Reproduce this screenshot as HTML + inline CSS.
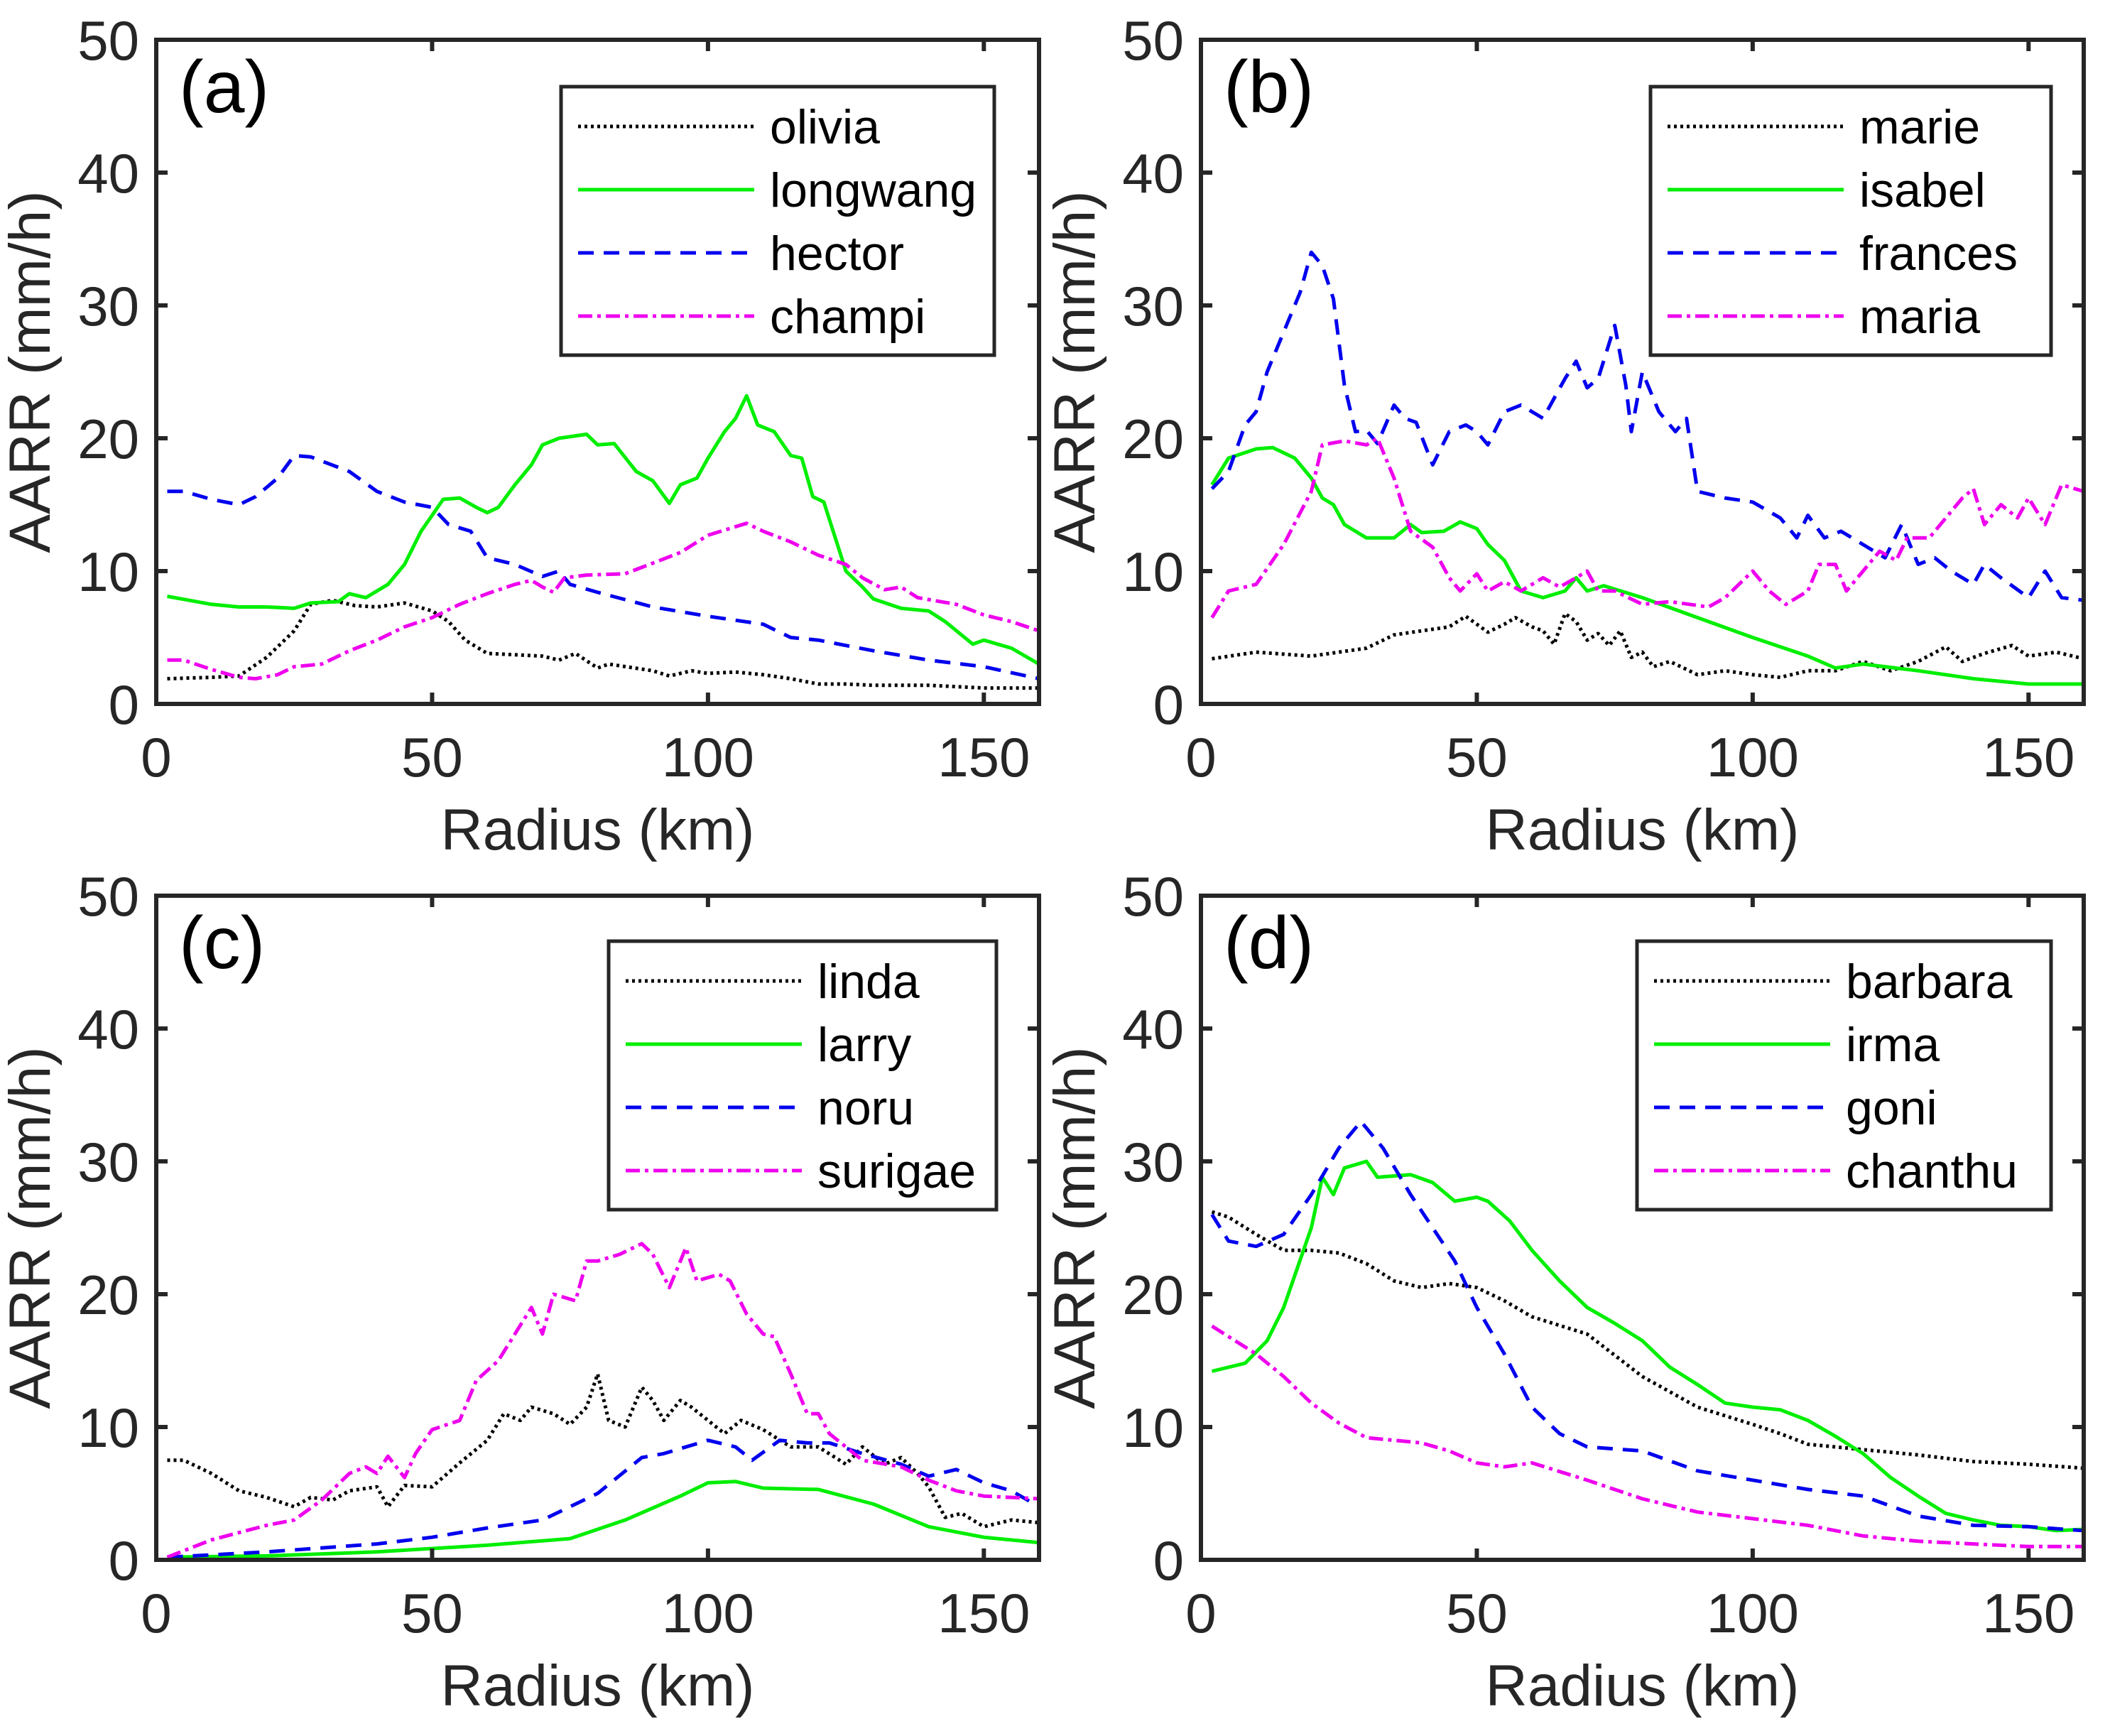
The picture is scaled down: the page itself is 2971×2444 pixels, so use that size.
<!DOCTYPE html>
<html><head><meta charset="utf-8"><style>
html,body{margin:0;padding:0;background:#fff}
svg{display:block}
text{font-family:"Liberation Sans",Arial,sans-serif;fill:#262626}
</style></head><body>
<svg id="fig" width="2971" height="2444" viewBox="0 0 2971 2444" xmlns="http://www.w3.org/2000/svg"></svg>
<script>
const xTicks=[0,50,100,150];
const yTicks=[0,10,20,30,40,50];
// panel a
const aOliviaX=[2,10,15,20,25,28,32,36,40,45,50,53,56,60,65,70,73,76,80,82,90,93,97,100,105,110,115,120,125,130,140,150,160];
const aOliviaY=[1.9,2.0,2.1,3.5,5.5,7.5,7.8,7.4,7.3,7.6,7.0,6.2,4.8,3.8,3.7,3.6,3.3,3.8,2.7,3.0,2.5,2.1,2.5,2.3,2.4,2.2,1.9,1.5,1.5,1.4,1.4,1.2,1.2];
const aLongwangX=[2,10,15,20,25,28,33,35,38,42,45,48,52,55,58,60,62,65,68,70,73,78,80,83,87,90,93,95,98,100,103,105,107,109,112,115,117,119,121,125,128,130,135,140,143,148,150,155,160];
const aLongwangY=[8.1,7.5,7.3,7.3,7.2,7.6,7.7,8.3,8.0,9.0,10.5,13,15.4,15.5,14.8,14.4,14.8,16.5,18,19.5,20.0,20.3,19.5,19.6,17.5,16.8,15.1,16.5,17,18.5,20.5,21.5,23.2,21.0,20.5,18.7,18.5,15.6,15.2,10,8.8,7.9,7.2,7.0,6.2,4.5,4.8,4.2,3.0];
const aHectorX=[2,5,10,15,18,22,25,28,35,40,45,50,53,57,60,65,70,73,75,80,90,100,110,115,120,130,140,150,160];
const aHectorY=[16,16,15.4,15,15.6,17,18.7,18.6,17.5,16,15.2,14.8,13.5,13,11,10.5,9.6,10,9,8.4,7.3,6.6,6.0,5.0,4.8,4.0,3.3,2.8,1.9];
const aChampiX=[2,5,10,15,18,22,25,30,35,40,45,50,55,60,65,68,70,72,74,78,85,90,95,100,107,110,115,120,125,128,132,135,138,145,150,155,160];
const aChampiY=[3.3,3.3,2.6,2,1.9,2.2,2.8,3,4.0,4.8,5.8,6.5,7.5,8.3,9.0,9.3,8.8,8.4,9.5,9.7,9.8,10.6,11.4,12.7,13.6,13.0,12.2,11.2,10.5,9.5,8.6,8.8,8.0,7.5,6.7,6.2,5.5];
// panel b
const bMarieX=[2,10,20,30,35,40,45,48,52,55,57,60,62,64,66,68,70,72,74,76,78,80,82,85,90,95,100,105,110,115,120,125,130,135,138,142,147,150,155,160];
const bMarieY=[3.4,3.9,3.6,4.2,5.2,5.5,5.8,6.6,5.4,6.0,6.5,5.8,5.5,4.5,6.8,6.2,4.8,5.3,4.4,5.5,3.5,3.9,2.8,3.2,2.2,2.5,2.2,2.0,2.5,2.5,3.2,2.5,3.2,4.3,3.2,3.8,4.4,3.6,3.9,3.4];
const bIsabelX=[2,5,10,13,17,20,22,24,26,30,35,38,40,44,47,50,52,55,58,62,66,68,70,73,80,90,100,110,115,120,130,140,150,160];
const bIsabelY=[16.5,18.5,19.2,19.3,18.5,17,15.5,15,13.5,12.5,12.5,13.5,12.9,13,13.7,13.2,12,10.8,8.5,8,8.5,9.5,8.5,8.9,8.0,6.5,5.0,3.6,2.7,3.0,2.5,1.9,1.5,1.5];
const bFrancesX=[2,5,8,10,12,15,18,20,22,24,26,28,30,32,35,37,39,42,45,48,50,52,55,58,62,66,68,70,72,75,77,78,80,83,86,88,90,95,100,105,108,110,113,116,120,124,127,130,133,136,140,142,145,150,153,156,160];
const bFrancesY=[16.2,17.5,21,22,25,28,31,34,33,30.5,24,20.5,20.6,19.6,22.5,21.5,21.2,18,20.5,21,20.5,19.5,22,22.5,21.5,24.5,25.8,23.8,24.5,28.5,24,20.5,25,22,20.5,21.5,16,15.5,15.2,14,12.5,14.2,12.5,13,12,11,13.5,10.5,11,10,9,10.5,9.5,8.0,10,8,7.8];
const bMariaX=[2,5,10,15,20,22,26,30,32,35,38,42,45,47,50,52,55,58,62,65,68,70,72,75,80,85,92,95,100,103,106,110,112,115,117,120,123,126,128,132,135,138,140,142,145,148,150,153,156,160];
const bMariaY=[6.5,8.5,9.0,12,16,19.5,19.8,19.5,20,17,13,11.8,9.5,8.5,9.8,8.5,9.2,8.5,9.5,8.8,9.5,10,8.5,8.5,7.5,7.7,7.3,8,10,8.5,7.5,8.5,10.5,10.5,8.5,10,11.5,10.8,12.5,12.5,14,15.5,16.2,13.5,15,14,15.5,13.5,16.5,16];
// panel c
const cLindaX=[2,5,10,15,20,25,28,32,35,40,42,45,50,55,60,63,66,68,72,75,78,80,82,85,88,90,92,95,97,100,103,106,110,115,120,125,128,132,135,138,140,143,146,150,155,160];
const cLindaY=[7.5,7.5,6.5,5.2,4.7,4.0,4.7,4.5,5.2,5.5,4.0,5.6,5.5,7.3,9.0,11,10.5,11.5,11,10.2,11.5,14,10.5,10,13,12,10.5,12,11.5,10.5,9.5,10.5,9.8,8.5,8.5,7.2,8.5,7.2,7.7,6.5,5.5,3.2,3.5,2.5,3,2.8];
const cLarryX=[2,20,40,60,75,85,95,100,105,110,120,130,140,150,160];
const cLarryY=[0.2,0.3,0.6,1.1,1.6,3.0,4.8,5.8,5.9,5.4,5.3,4.2,2.5,1.7,1.3];
const cNoruX=[2,20,40,50,60,70,80,88,92,100,105,108,113,118,122,128,135,140,145,150,155,160];
const cNoruY=[0.2,0.6,1.2,1.7,2.4,3.0,5.0,7.7,8.0,9.0,8.5,7.5,9.0,8.8,8.8,8.0,7.2,6.3,6.8,5.8,5.2,4.0];
const cSurigaeX=[2,10,20,25,30,35,38,40,42,45,47,50,55,58,62,65,68,70,72,76,78,80,84,88,90,93,96,98,102,104,107,110,112,115,118,120,122,128,135,140,145,150,160];
const cSurigaeY=[0.2,1.5,2.6,3.0,4.5,6.5,7.0,6.5,7.8,6.2,8.0,9.8,10.5,13.5,15,17,19,17,20,19.5,22.5,22.5,23,23.8,23,20.5,23.5,21,21.5,21,18.5,17,16.8,14,11,11,9.5,7.5,7.0,6,5.2,4.8,4.6];
// panel d
const dBarbaraX=[2,5,10,15,20,25,30,35,40,45,50,55,60,70,80,90,100,105,110,120,130,140,150,160];
const dBarbaraY=[26.2,25.8,24.5,23.3,23.3,23.1,22.3,21,20.5,20.8,20.5,19.5,18.3,17,13.8,11.5,10.2,9.5,8.7,8.3,7.9,7.4,7.2,6.9];
const dIrmaX=[2,8,12,15,20,22,24,26,30,32,38,42,46,50,52,56,60,65,70,75,80,85,90,95,100,105,110,115,120,125,130,135,140,145,150,155,160];
const dIrmaY=[14.2,14.8,16.5,19,25,28.8,27.5,29.5,30,28.8,29,28.4,27,27.3,27,25.5,23.3,21,19,17.8,16.5,14.5,13.2,11.8,11.5,11.3,10.5,9.3,8.0,6.2,4.8,3.5,3.0,2.6,2.5,2.2,2.3];
const dGoniX=[2,5,10,15,20,25,29,33,38,42,46,50,55,60,65,70,80,90,100,110,120,130,140,150,160];
const dGoniY=[26,24,23.6,24.5,27.5,31,33,31,27.5,25,22.5,19,15.5,11.5,9.5,8.5,8.2,6.7,6.0,5.3,4.8,3.3,2.6,2.5,2.2];
const dChanthuX=[2,10,15,20,25,30,40,45,50,55,60,70,80,90,100,110,120,130,140,150,160];
const dChanthuY=[17.6,15.5,13.8,11.8,10.3,9.2,8.8,8.2,7.3,7.0,7.3,6.0,4.6,3.6,3.1,2.6,1.8,1.4,1.2,1.0,1.0];

const NS='http://www.w3.org/2000/svg';
const svg=document.getElementById('fig');
function mk(tag,attrs,parent){const e=document.createElementNS(NS,tag);for(const k in attrs)e.setAttribute(k,attrs[k]);(parent||svg).appendChild(e);return e;}
const STY={
 dot:{stroke:'#000',dash:'4,5'},
 solid:{stroke:'#00ee00',dash:''},
 dash:{stroke:'#0000ee',dash:'22,14'},
 dashdot:{stroke:'#ee00ee',dash:'20,7,5,7'}
};
const panels=[
 {id:'a',L:220,T:56,series:[['olivia',aOliviaX,aOliviaY,'dot'],['longwang',aLongwangX,aLongwangY,'solid'],['hector',aHectorX,aHectorY,'dash'],['champi',aChampiX,aChampiY,'dashdot']],leg:[790,122,1400,500]},
 {id:'b',L:1691,T:56,series:[['marie',bMarieX,bMarieY,'dot'],['isabel',bIsabelX,bIsabelY,'solid'],['frances',bFrancesX,bFrancesY,'dash'],['maria',bMariaX,bMariaY,'dashdot']],leg:[2324,122,2888,500]},
 {id:'c',L:220,T:1261,series:[['linda',cLindaX,cLindaY,'dot'],['larry',cLarryX,cLarryY,'solid'],['noru',cNoruX,cNoruY,'dash'],['surigae',cSurigaeX,cSurigaeY,'dashdot']],leg:[857,1325,1403,1703]},
 {id:'d',L:1691,T:1261,series:[['barbara',dBarbaraX,dBarbaraY,'dot'],['irma',dIrmaX,dIrmaY,'solid'],['goni',dGoniX,dGoniY,'dash'],['chanthu',dChanthuX,dChanthuY,'dashdot']],leg:[2305,1325,2888,1703]}
];
const W=1243,H=935;
panels.forEach(p=>{
 const g=mk('g',{});
 
 
 const xs=v=>p.L+v/160*W, ys=v=>p.T+H-v/50*H;
 p.series.forEach(s=>{
  const st=STY[s[3]];
  const d=s[1].map((x,i)=>(i?'L':'M')+xs(x).toFixed(1)+','+ys(s[2][i]).toFixed(1)).join(' ');
  const path=mk('path',{d:d,fill:'none',stroke:st.stroke,'stroke-width':5,'stroke-dasharray':st.dash,'stroke-linejoin':'round'},g);
  
  
 });
 const box=mk('rect',{x:p.L,y:p.T,width:W,height:H,fill:'none',stroke:'#262626','stroke-width':6},g);
 
 
 xTicks.forEach(t=>{
  const x=xs(t);
  mk('line',{x1:x,y1:p.T+H,x2:x,y2:p.T+H-16,stroke:'#262626','stroke-width':6},g);
  mk('line',{x1:x,y1:p.T,x2:x,y2:p.T+16,stroke:'#262626','stroke-width':6},g);
  const tx=mk('text',{x:x,y:p.T+H+102,'font-size':78,'text-anchor':'middle'},g);
  tx.textContent=t;
  
  
 });
 yTicks.forEach(t=>{
  const y=ys(t);
  mk('line',{x1:p.L,y1:y,x2:p.L+16,y2:y,stroke:'#262626','stroke-width':6},g);
  mk('line',{x1:p.L+W,y1:y,x2:p.L+W-16,y2:y,stroke:'#262626','stroke-width':6},g);
  const ty=mk('text',{x:p.L-24,y:y+28,'font-size':78,'text-anchor':'end'},g);
  ty.textContent=t;
  
  
 });
 const xl=mk('text',{x:p.L+W/2,y:p.T+H+205,'font-size':82,'text-anchor':'middle'},g);
 xl.textContent='Radius (km)';
 
 
 const yl=mk('text',{x:0,y:0,'font-size':82,'text-anchor':'middle',transform:'translate('+(p.L-150)+','+(p.T+H/2)+') rotate(-90)'},g);
 yl.textContent='AARR (mm/h)';
 
 
 const pl=mk('text',{x:p.L+32,y:p.T+102,'font-size':104,style:'fill:#000'},g);
 pl.textContent='('+p.id+')';
 
 
 const [lx0,ly0,lx1,ly1]=p.leg;
 const lg=mk('g',{},g);
 
 
 mk('rect',{x:lx0,y:ly0,width:lx1-lx0,height:ly1-ly0,fill:'#fff',stroke:'#262626','stroke-width':5},lg);
 p.series.forEach((s,i)=>{
  const st=STY[s[3]];
  const y=ly0+56+i*89;
  const ln=mk('line',{x1:lx0+24,y1:y,x2:lx0+272,y2:y,stroke:st.stroke,'stroke-width':5,'stroke-dasharray':st.dash},lg);
  
  
  const lt=mk('text',{x:lx0+294,y:y+24,'font-size':68,style:'fill:#000'},lg);
  lt.textContent=s[0];
  
  
 });
});
</script>
</body></html>
